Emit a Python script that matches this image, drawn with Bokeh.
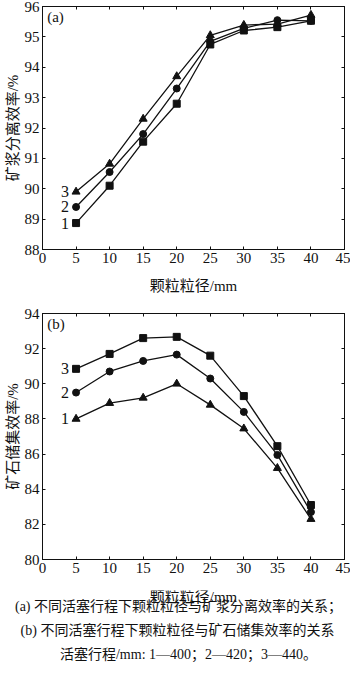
from bokeh.plotting import figure
from bokeh.layouts import column
from bokeh.models import Range1d, LinearAxis, Label, FixedTicker, ColumnDataSource
from bokeh.core.properties import value
from bokeh.embed import file_html
from bokeh.resources import INLINE

# ---------------- data ----------------
particle_size = [5, 10, 15, 20, 25, 30, 35, 40]

# (a) slurry separation efficiency, %
a_stroke_400 = [88.87, 90.1, 91.55, 92.8, 94.75, 95.21, 95.32, 95.53]
a_stroke_420 = [89.4, 90.55, 91.8, 93.3, 94.85, 95.28, 95.55, 95.53]
a_stroke_440 = [89.9, 90.82, 92.3, 93.7, 95.05, 95.39, 95.42, 95.72]

# (b) ore storage efficiency, %
b_stroke_400 = [88.0, 88.9, 89.2, 90.0, 88.8, 87.45, 85.2, 82.3]
b_stroke_420 = [89.5, 90.7, 91.3, 91.66, 90.3, 88.4, 85.95, 82.7]
b_stroke_440 = [90.85, 91.7, 92.6, 92.67, 91.6, 89.3, 86.45, 83.1]

series_names = ["1", "2", "3"]
x_ticks = [0, 5, 10, 15, 20, 25, 30, 35, 40, 45]
a_y_ticks = [88, 89, 90, 91, 92, 93, 94, 95, 96]
b_y_ticks = [80, 82, 84, 86, 88, 90, 92, 94]

x_label = "颗粒粒径/mm"
a_y_label = "矿浆分离效率/%"
b_y_label = "矿石储集效率/%"
caption_lines = [
    "(a) 不同活塞行程下颗粒粒径与矿浆分离效率的关系；",
    "(b) 不同活塞行程下颗粒粒径与矿石储集效率的关系",
    "活塞行程/mm: 1—400；2—420；3—440。",
]

SERIF = "'Liberation Serif', 'Noto Sans CJK SC'"
INK = "#111111"


def no_frame_align(p):
    if "frame_align" in p.properties():
        p.frame_align = False


def style_axes(p, yticks):
    p.xaxis.ticker = FixedTicker(ticks=x_ticks)
    p.yaxis.ticker = FixedTicker(ticks=yticks)
    for ax in p.axis:
        ax.major_tick_in = 3
        ax.major_tick_out = 0
        ax.minor_tick_line_color = None
        ax.axis_line_color = INK
        ax.major_tick_line_color = INK
        ax.major_label_text_font = SERIF
        ax.major_label_text_font_size = "15px"
        ax.major_label_text_color = INK
        ax.axis_label_text_font = SERIF
        ax.axis_label_text_font_size = "15px"
        ax.axis_label_text_font_style = "normal"
        ax.axis_label_text_color = INK
    p.xaxis.major_label_standoff = 3
    p.xaxis.axis_label_standoff = 12
    p.yaxis.major_label_standoff = 3
    p.yaxis.axis_label_standoff = 1
    # mirror ticks on right and top (no labels)
    r = LinearAxis(ticker=FixedTicker(ticks=yticks), major_tick_in=3, major_tick_out=0,
                   minor_tick_line_color=None, major_label_text_font_size="1px",
                   major_label_text_color=None, major_label_standoff=0,
                   axis_line_color=INK, major_tick_line_color=INK)
    t = LinearAxis(ticker=FixedTicker(ticks=x_ticks), major_tick_in=3, major_tick_out=0,
                   minor_tick_line_color=None, major_label_text_font_size="1px",
                   major_label_text_color=None, major_label_standoff=0,
                   axis_line_color=INK, major_tick_line_color=INK)
    p.add_layout(r, "right")
    p.add_layout(t, "above")
    p.grid.visible = False
    p.outline_line_color = INK


def make_fig(height, yr, bottom_border, top_border):
    p = figure(width=350, height=height, x_range=Range1d(0, 45), y_range=Range1d(*yr),
               output_backend="svg", toolbar_location=None,
               min_border_left=42, min_border_right=6,
               min_border_top=top_border, min_border_bottom=bottom_border)
    p.background_fill_color = "white"
    p.border_fill_color = "white"
    no_frame_align(p)
    return p


def add_series(p, ys, marker, size):
    src = ColumnDataSource(dict(x=particle_size, y=ys))
    p.line("x", "y", source=src, line_color=INK, line_width=1.3)
    p.scatter("x", "y", source=src, marker=marker, size=size,
              fill_color=INK, line_color=INK)


def add_series_labels(p, series):
    for name, ys in zip(series_names, series):
        p.add_layout(Label(x=particle_size[0], y=ys[0], text=name, x_offset=-7,
                           text_align="right", text_baseline="middle",
                           text_font=SERIF, text_font_size="16px", text_color=INK))


# ---------------- panel (a) ----------------
pa = make_fig(300, (88, 96), 51, 6)
pa.xaxis.axis_label = x_label
pa.yaxis.axis_label = a_y_label
add_series(pa, a_stroke_400, "square", 7)
add_series(pa, a_stroke_420, "circle", 7)
add_series(pa, a_stroke_440, "triangle", 8)
add_series_labels(pa, [a_stroke_400, a_stroke_420, a_stroke_440])
pa.add_layout(Label(x=0.7, y=95.65, text="(a)", text_baseline="middle",
                    text_font=SERIF, text_font_size="15px", text_color=INK))
style_axes(pa, a_y_ticks)

# ---------------- panel (b) ----------------
pb = make_fig(290, (80, 94), 31, 13)
pb.yaxis.axis_label = b_y_label
add_series(pb, b_stroke_400, "triangle", 8)
add_series(pb, b_stroke_420, "circle", 7)
add_series(pb, b_stroke_440, "square", 7)
add_series_labels(pb, [b_stroke_400, b_stroke_420, b_stroke_440])
pb.add_layout(Label(x=0.7, y=93.4, text="(b)", text_baseline="middle",
                    text_font=SERIF, text_font_size="15px", text_color=INK))
style_axes(pb, b_y_ticks)

# ---------------- x title of (b) and caption ----------------
pc = figure(width=350, height=83, x_range=Range1d(0, 350), y_range=Range1d(83, 0),
            output_backend="svg", toolbar_location=None,
            x_axis_location=None, y_axis_location=None,
            min_border_left=0, min_border_right=0, min_border_top=0, min_border_bottom=0)
no_frame_align(pc)
pc.outline_line_color = None
pc.grid.visible = False
cap_src = ColumnDataSource(dict(
    x=[193, 178, 177, 188],
    y=[6, 15.5, 39.5, 63.5],
    text=[x_label] + caption_lines,
    size=["15px", "14px", "14px", "14px"],
))
pc.text("x", "y", text="text", source=cap_src, text_align="center",
        text_baseline="middle", text_font=value(SERIF),
        text_font_size="size", text_color=INK)

layout = column(pa, pb, pc, spacing=0)
open("out.html", "w").write(file_html(layout, INLINE))
